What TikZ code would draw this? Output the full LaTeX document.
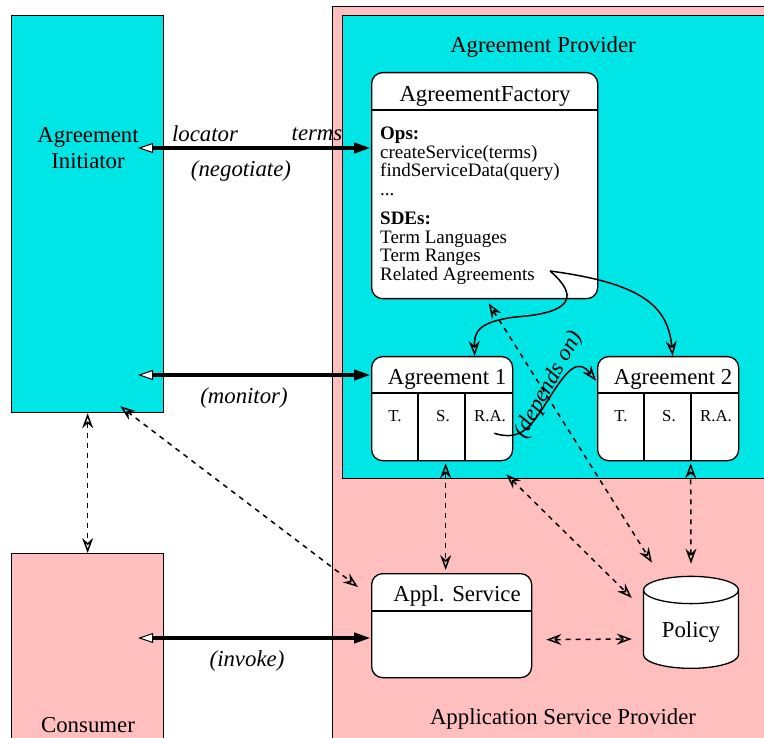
\documentclass[tikz,border=0pt]{standalone}
\usepackage{fontspec}
\setmainfont{Liberation Serif}
\usetikzlibrary{arrows.meta,shapes.geometric}
\definecolor{provcyan}{RGB}{0,229,229}
\definecolor{provpink}{RGB}{255,191,191}
\tikzset{
  box/.style={draw,line width=1.3pt,anchor=north west,inner sep=0pt},
  rbox/.style={box,fill=white,rounded corners=11pt},
  big/.style={font=\fontsize{22.8}{26}\selectfont},
  body/.style={font=\fontsize{19}{18.5}\selectfont},
  small/.style={font=\fontsize{16.8}{18}\selectfont},
  lbl/.style={font=\fontsize{22.8}{26}\selectfont\itshape},
  call/.style={line width=4pt,
    {Triangle[fill=white,line width=1pt,length=15pt,width=10pt]}-{Triangle[length=17pt,width=10pt]}},
  dep/.style={line width=1.5pt,dash pattern=on 5pt off 5pt,
    {Stealth[open,length=15pt,width=11pt,inset=5pt]}-{Stealth[open,length=15pt,width=11pt,inset=5pt]}},
  rel/.style={line width=1.5pt,-{Stealth[open,length=15pt,width=11pt,inset=5pt]}}
}
\begin{document}
\begin{tikzpicture}[x=1pt,y=-1pt]
  \clip (0,0) rectangle (764,738);
  % the two providers
  \node[box,fill=provpink,minimum width=460pt,minimum height=760pt] (asp) at (332,6) {};
  \node[box,fill=provcyan,minimum width=450pt,minimum height=463pt] (ap) at (342,15) {};
  \node[big] (aptitle) at (543,47) {Agreement Provider};
  \node[big] (asptitle) at (563,719) {Application Service Provider};

  % client side
  \node[box,fill=provcyan,minimum width=152pt,minimum height=397pt] (init) at (11,15) {};
  \node[big,align=center] (inittitle) at (88,148) {Agreement\\Initiator};
  \node[box,fill=provpink,minimum width=152pt,minimum height=200pt] (cons) at (11,553) {};
  \node[big] (constitle) at (88,725) {Consumer};

  % the factory
  \node[rbox,minimum width=226pt,minimum height=226pt] (fac) at (371,72) {};
  \draw[line width=1.3pt] (371,110) -- (597,110);
  \node[big] (factitle) at (485,96) {AgreementFactory};
  \node[body,align=left,anchor=north west,inner sep=0pt] (facbody) at (380,127)
    {\textbf{Ops:}\\createService(terms)\\findServiceData(query)\\...\\[11pt]
     \textbf{SDEs:}\\Term Languages\\Term Ranges\\Related Agreements};
  \coordinate (relag) at (550,271);

  % agreements, 3 columns each
  \foreach \i/\x in {1/371,2/597}
  {
    \node[rbox,minimum width=141pt,minimum height=104pt] (ag\i) at (\x,356) {};
    \draw[line width=1.3pt] (\x,393) -- (\x+141,393)
      (\x+47,393) -- (\x+47,460) (\x+94,393) -- (\x+94,460);
    \node[big] (agname\i) at (\x+76,379) {Agreement \i};
    \node[small] (agt\i) at (\x+24,416) {T.};
    \node[small] (ags\i) at (\x+72,416) {S.};
    \node[small] (agra\i) at (\x+119,416) {R.A.};
  }

  % service and policy
  \node[rbox,minimum width=160pt,minimum height=104pt] (appl) at (371,573) {};
  \draw[line width=1.3pt] (371,611) -- (531,611);
  \node[big] (appltitle) at (457,596) {Appl. Service};
  \node[draw,line width=1.3pt,fill=white,cylinder,shape border rotate=90,aspect=0.42,
    minimum width=95pt,minimum height=92pt,big] (policy) at (691,632) {Policy};

  % calls
  \coordinate (nego) at (138,148);
  \coordinate (moni) at (138,375);
  \coordinate (invo) at (138,638);
  \draw[call] (nego) -- (nego -| fac.west);
  \draw[call] (moni) -- (moni -| ag1.west);
  \draw[call] (invo) -- (invo -| appl.west);
  \node[lbl] (locator) at (205,134) {locator};
  \node[lbl] (terms) at (317,134) {terms};
  \node[lbl] (negotiate) at (241,171) {(negotiate)};
  \node[lbl] (monitor) at (244,398) {(monitor)};
  \node[lbl] (invoke) at (247,661) {(invoke)};

  % dashed links
  \draw[dep] (init.south) -- (cons.north);
  \draw[dep] ([shift={(-44,-7)}]init.south east) -- ([shift={(-13,14)}]appl.north west);
  \draw[dep] ([shift={(3.5,2)}]ag1.south) -- ([shift={(-6,-3)}]appl.north);
  \draw[dep] ([shift={(0,-12)}]policy.north) -- ([shift={(22.5,2)}]ag2.south);
  \draw[dep] ([shift={(4,4)}]fac.south) -- ([shift={(-39,-13)}]policy.north);
  \draw[dep] ([shift={(-7,13)}]ag1.south east) -- ([shift={(-11,-34)}]policy.west);
  \draw[dep] ([shift={(14,14)}]appl.east) -- ([shift={(-11,7)}]policy.west);

  % related agreements
  \draw[rel] (relag) .. controls (578,295) and (575,313) .. (515,317)
    .. controls (478,322) and (474,332) .. ([shift={(32.5,0)}]ag1.north);
  \draw[rel] (relag) .. controls (640,283) and (668,305) .. ([shift={(4.5,0)}]ag2.north);
  \draw[rel] ([shift={(-19,-28)}]ag1.south east) .. controls (522,442) and (532,425) .. (548,400)
    .. controls (568,368) and (578,358) .. ([shift={(-1,-28)}]ag2.west);
  \node[lbl,rotate=61] (dependson) at (549,385) {(depends on)};
\end{tikzpicture}
\end{document}
